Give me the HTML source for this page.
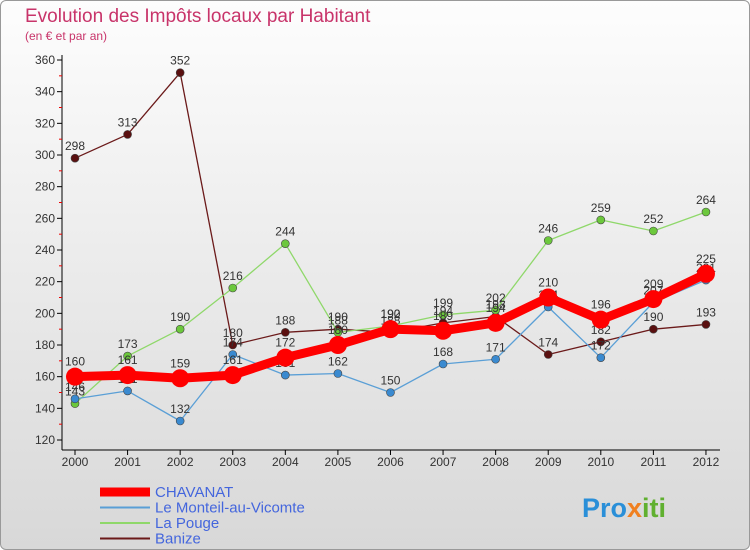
<!DOCTYPE html>
<html><head><meta charset="utf-8"><style>
body{margin:0;width:750px;height:550px;overflow:hidden;font-family:"Liberation Sans",sans-serif}
#c{position:absolute;left:0;top:0;width:748px;height:548px;border:1px solid #999;border-radius:6px;background:linear-gradient(#fdfdfd,#d8d8d8)}
</style></head><body>
<div id="c"></div>
<svg id="s" width="750" height="550" style="position:absolute;left:0;top:0" font-family="Liberation Sans, sans-serif">
<text x="25" y="22" font-size="19" fill="#c8346a">Evolution des Impôts locaux par Habitant</text>
<text x="25" y="40" font-size="12" fill="#c8346a">(en € et par an)</text>
<g id="axes"></g><g id="series"></g><g id="legend"></g>
<text x="582" y="517" font-size="27" font-weight="bold" fill="#2a8fd8">Pro<tspan fill="#f08020">x</tspan><tspan fill="#60b030">iti</tspan></text>
</svg>
<script>
const years=[2000,2001,2002,2003,2004,2005,2006,2007,2008,2009,2010,2011,2012];
const yTicks=[120,140,160,180,200,220,240,260,280,300,320,340,360];
const chavanat=[160,161,159,161,172,180,190,189,194,210,196,209,225];
const monteil=[146,151,132,174,161,162,150,168,171,204,172,207,221];
const pouge=[143,173,190,216,244,188,192,199,202,246,259,252,264];
const banize=[298,313,352,180,188,190,188,194,198,174,182,190,193];
const NS="http://www.w3.org/2000/svg";
const X=i=>75+i*52.58, Y=v=>440-(v-120)*380/240;
function mk(t,a,p){const e=document.createElementNS(NS,t);for(const k in a)e.setAttribute(k,a[k]);p.appendChild(e);return e;}
const ax=document.getElementById('axes');
const yl=mk('line',{x1:62,y1:55,x2:62,y2:450,stroke:'#000'},ax);


const xl=mk('line',{x1:62,y1:450,x2:720,y2:450,stroke:'#000'},ax);


yTicks.forEach(v=>{
 mk('line',{x1:57,y1:Y(v),x2:62,y2:Y(v),stroke:'#000'},ax);
 if(v<360)mk('line',{x1:59,y1:Y(v+10),x2:62,y2:Y(v+10),stroke:'#e00'},ax);
 const t=mk('text',{x:55,y:Y(v)+4,'font-size':12,'text-anchor':'end',fill:'#333'},ax);t.textContent=v;
 
 
});
years.forEach((y,i)=>{
 mk('line',{x1:X(i),y1:450,x2:X(i),y2:455,stroke:'#000'},ax);
 const t=mk('text',{x:X(i),y:466,'font-size':12,'text-anchor':'middle',fill:'#333'},ax);t.textContent=y;
 
 
});
const sg=document.getElementById('series');
const defs=[[banize,'#6b1a1a','#5a1010',1.3,4,'banize'],[pouge,'#8fd86a','#6cc83c',1.3,4,'la-pouge'],[monteil,'#5a9fd6','#3a8ad0',1.3,4,'le-monteil'],[chavanat,'#ff0000','#ff0000',9,9,'chavanat']];
defs.forEach(([d,c,f,w,r,n])=>{
 const g=mk('g',{},sg);
 
 
 const p=mk('polyline',{points:d.map((v,i)=>X(i)+','+Y(v)).join(' '),fill:'none',stroke:c,'stroke-width':w,'stroke-linejoin':'round'},g);
 
 
 d.forEach((v,i)=>{
  const ci=mk('circle',{cx:X(i),cy:Y(v),r:r,fill:f,stroke:n=='chavanat'?'none':'#444','stroke-width':0.6},g);
  
  
  const t=mk('text',{x:X(i),y:Y(v)-(n=='chavanat'?11:8),'font-size':12,'text-anchor':'middle',fill:'#333'},g);t.textContent=v;
  
  
 });
});
const lg=document.getElementById('legend');
const items=[['CHAVANAT','#ff0000',9],['Le Monteil-au-Vicomte','#5a9fd6',2],['La Pouge','#8fd86a',2],['Banize','#6b1a1a',2]];
items.forEach(([n,c,w],i)=>{
 const yy=492+i*15.5;
 const g=mk('g',{},lg);
 
 
 mk('line',{x1:100,y1:yy,x2:150,y2:yy,stroke:c,'stroke-width':w},g);
 const t=mk('text',{x:155,y:yy+5,'font-size':15,fill:'#4466dd'},g);t.textContent=n;
});
</script>
</body></html>
